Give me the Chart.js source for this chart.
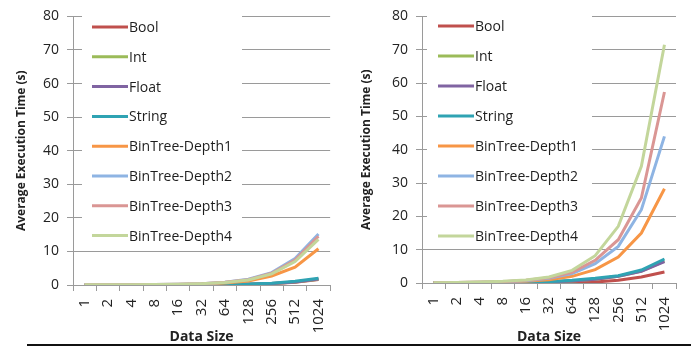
<!DOCTYPE html>
<html>
<head>
<meta charset="utf-8">
<script src="https://cdn.jsdelivr.net/npm/chart.js@4.4.1/dist/chart.umd.min.js"></script>
<style>
  html, body { margin: 0; padding: 0; background: #fff; }
  #wrap { position: relative; width: 691px; height: 347px; overflow: hidden; }
  .panel { position: absolute; top: 0; height: 347px; }
  #leftPanel { left: 0; width: 345px; }
  #rightPanel { left: 345px; width: 346px; }
  #rule { position: absolute; left: 27px; top: 344px; width: 664px; height: 2px; background: #111; }
</style>
</head>
<body>
<div id="wrap">
  <div class="panel" id="leftPanel"><canvas id="left-chart"></canvas></div>
  <div class="panel" id="rightPanel"><canvas id="right-chart"></canvas></div>
  <div id="rule"></div>
</div>
<script>
// categories
const sizes = ['1', '2', '4', '8', '16', '32', '64', '128', '256', '512', '1024'];
const seriesNames = ['Bool', 'Int', 'Float', 'String', 'BinTree-Depth1', 'BinTree-Depth2', 'BinTree-Depth3', 'BinTree-Depth4'];
const yTicks = [0, 10, 20, 30, 40, 50, 60, 70, 80];

// left panel (seconds)
const leftBool   = [0.01, 0.01, 0.02, 0.03, 0.05, 0.08, 0.12, 0.2, 0.4, 0.8, 1.6];
const leftInt    = [0.01, 0.02, 0.02, 0.03, 0.05, 0.08, 0.14, 0.25, 0.45, 0.9, 1.7];
const leftFloat  = [0.01, 0.02, 0.02, 0.03, 0.05, 0.09, 0.15, 0.25, 0.45, 0.9, 1.8];
const leftString = [0.02, 0.02, 0.03, 0.04, 0.06, 0.1, 0.18, 0.3, 0.55, 1.1, 2.0];
const leftD1     = [0.03, 0.04, 0.06, 0.1, 0.16, 0.3, 0.6, 1.2, 2.7, 5.3, 10.8];
const leftD2     = [0.04, 0.05, 0.08, 0.12, 0.2, 0.4, 0.8, 1.7, 3.7, 7.9, 15.2];
const leftD3     = [0.04, 0.05, 0.08, 0.12, 0.2, 0.4, 0.8, 1.6, 3.5, 7.4, 14.5];
const leftD4     = [0.04, 0.05, 0.08, 0.12, 0.2, 0.4, 0.75, 1.5, 3.3, 7.0, 13.6];

// right panel (seconds)
const rightBool   = [0.05, 0.05, 0.06, 0.08, 0.1, 0.12, 0.2, 0.3, 0.8, 1.8, 3.3];
const rightInt    = [0.05, 0.06, 0.08, 0.1, 0.2, 0.35, 0.6, 1.1, 2.0, 3.6, 6.6];
const rightFloat  = [0.05, 0.06, 0.08, 0.1, 0.2, 0.35, 0.6, 1.1, 2.0, 3.5, 6.4];
const rightString = [0.05, 0.06, 0.08, 0.12, 0.25, 0.4, 0.8, 1.4, 2.2, 3.9, 7.2];
const rightD1     = [0.1, 0.15, 0.2, 0.3, 0.5, 1.0, 2.0, 4.0, 7.8, 15, 28.3];
const rightD2     = [0.1, 0.15, 0.25, 0.4, 0.7, 1.4, 2.8, 5.8, 11, 22, 44];
const rightD3     = [0.1, 0.15, 0.25, 0.4, 0.8, 1.6, 3.2, 6.8, 13, 25.5, 57.3];
const rightD4     = [0.1, 0.15, 0.3, 0.5, 0.9, 1.8, 3.8, 8.2, 17, 35, 71.5];

const seriesColors = ['#C0504D', '#9BBB59', '#8064A2', '#2FA3B3', '#F79646', '#8EB4E3', '#DA9694', '#C3D69B'];

const FONT = "'Open Sans', sans-serif";

// legend drawn inside the plot, Excel style, on a white box
const insideLegend = {
  id: 'insideLegend',
  beforeDatasetsDraw(chart, args, opts) {
    const ctx = chart.ctx;
    ctx.save();
    ctx.fillStyle = '#fff';
    ctx.fillRect(opts.box[0], opts.box[1], opts.box[2], opts.box[3]);
    ctx.restore();
  },
  afterDatasetsDraw(chart, args, opts) {
    const ctx = chart.ctx;
    ctx.save();
    ctx.font = '14px ' + FONT;
    ctx.textBaseline = 'middle';
    chart.data.datasets.forEach((ds, i) => {
      const y = opts.y0 + i * opts.step;
      ctx.strokeStyle = ds.borderColor;
      ctx.lineWidth = 3;
      ctx.beginPath();
      ctx.moveTo(opts.x0, y);
      ctx.lineTo(opts.x0 + 36, y);
      ctx.stroke();
      ctx.fillStyle = '#1e1e1e';
      ctx.fillText(ds.label, opts.x0 + 37, y + 1);
    });
    ctx.restore();
  },
};

function makeChart(id, seriesData, yWidth, xHeight, legendOpts) {
  const datasets = seriesData.map((data, i) => ({
    label: seriesNames[i],
    data: data,
    borderColor: seriesColors[i],
    backgroundColor: seriesColors[i],
    borderWidth: 3,
    pointRadius: 0,
    tension: 0,
    order: seriesData.length - i,
  }));

  return new Chart(document.getElementById(id), {
    type: 'line',
    data: { labels: sizes, datasets: datasets },
    plugins: [insideLegend],
    options: {
      responsive: true,
      maintainAspectRatio: false,
      animation: false,
      layout: { padding: { left: 10, right: 12, top: 11, bottom: 2 } },
      plugins: {
        legend: { display: false },
        tooltip: { enabled: false },
        insideLegend: legendOpts,
      },
      scales: {
        x: {
          offset: true,
          grid: { offset: true, drawOnChartArea: false, drawTicks: true, tickLength: 6, color: '#9a9a9a' },
          border: { color: '#9a9a9a' },
          ticks: {
            minRotation: 90, maxRotation: 90, autoSkip: false, padding: 8,
            color: '#222', font: { family: FONT, size: 15 },
          },
          title: {
            display: true, text: 'Data Size', color: '#222',
            font: { family: FONT, size: 14, weight: 'bold' }, padding: { top: 0, bottom: 0 },
          },
          afterFit: (s) => { s.height = xHeight; },
        },
        y: {
          min: 0,
          max: 80,
          afterBuildTicks: (s) => { s.ticks = yTicks.map((v) => ({ value: v })); },
          grid: { color: '#9a9a9a', tickLength: 6 },
          border: { color: '#9a9a9a' },
          ticks: { padding: 8, color: '#222', font: { family: FONT, size: 14 } },
          title: {
            display: true, text: 'Average Execution Time (s)', color: '#222',
            font: { family: FONT, size: 12, weight: 'bold' }, padding: { top: 4, bottom: 4 },
          },
          afterFit: (s) => { s.width = yWidth; },
        },
      },
    },
  });
}

makeChart('left-chart',
  [leftBool, leftInt, leftFloat, leftString, leftD1, leftD2, leftD3, leftD4],
  63, 60,
  { box: [82, 4, 160, 244], x0: 92, y0: 27, step: 29.8 });

makeChart('right-chart',
  [rightBool, rightInt, rightFloat, rightString, rightD1, rightD2, rightD3, rightD4],
  67, 62,
  { box: [82, 4, 165, 240], x0: 93, y0: 26, step: 30 });
</script>
</body>
</html>
